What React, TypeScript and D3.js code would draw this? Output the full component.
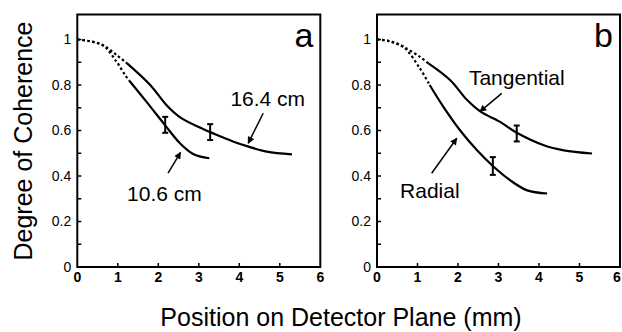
import React from "react";
import * as d3 from "d3";

type P = [number, number];

// Panel a
const aFarDashed: P[] = [[0, 1], [0.3, 0.993], [0.64, 0.974], [0.97, 0.932], [1.23, 0.895]];
const aFarSolid: P[] = [[1.23, 0.895], [1.8, 0.8], [2.21, 0.71], [2.54, 0.658], [3.04, 0.612], [3.45, 0.58], [3.86, 0.551], [4.23, 0.529], [4.68, 0.507], [5.3, 0.495]];
const aNearDashed: P[] = [[0, 1], [0.3, 0.993], [0.64, 0.974], [0.97, 0.902], [1.18, 0.844], [1.28, 0.82]];
const aNearSolid: P[] = [[1.28, 0.82], [1.71, 0.726], [2.16, 0.625], [2.54, 0.543], [2.86, 0.497], [3.26, 0.478]];
const aErrors = [
  { x: 2.17, y: 0.625, e: 0.035 },
  { x: 3.28, y: 0.593, e: 0.035 },
];
const aLabels = [
  { text: "16.4 cm", x: 3.78, y: 0.708 },
  { text: "10.6 cm", x: 1.23, y: 0.291 },
];
const aArrows = [
  { x1: 4.59, y1: 0.676, x2: 4.22, y2: 0.544 },
  { x1: 2.24, y1: 0.413, x2: 2.55, y2: 0.504 },
];

// Panel b
const bTanDashed: P[] = [[0, 1], [0.3, 0.993], [0.65, 0.968], [1.06, 0.924], [1.27, 0.895]];
const bTanSolid: P[] = [[1.27, 0.895], [1.81, 0.821], [2.22, 0.735], [2.55, 0.684], [3.04, 0.638], [3.43, 0.592], [4.12, 0.535], [4.61, 0.513], [5.31, 0.499]];
const bRadDashed: P[] = [[0, 1], [0.3, 0.993], [0.65, 0.968], [1.06, 0.873], [1.3, 0.8]];
const bRadSolid: P[] = [[1.3, 0.8], [1.64, 0.704], [2.05, 0.601], [2.47, 0.513], [2.86, 0.444], [3.29, 0.381], [3.71, 0.337], [4.2, 0.323]];
const bErrors = [
  { x: 3.45, y: 0.587, e: 0.035 },
  { x: 2.86, y: 0.444, e: 0.039 },
];
const bLabels = [
  { text: "Tangential", x: 2.27, y: 0.798 },
  { text: "Radial", x: 0.57, y: 0.302 },
];
const bArrows = [
  { x1: 3.08, y1: 0.763, x2: 2.54, y2: 0.683 },
  { x1: 1.35, y1: 0.412, x2: 1.97, y2: 0.566 },
];

const xTicks = [0, 1, 2, 3, 4, 5, 6];
const yTickLabels = [0, 0.2, 0.4, 0.6, 0.8, 1];
const yMinor = [0.1, 0.2, 0.3, 0.4, 0.5, 0.6, 0.7, 0.8, 0.9, 1.0];

const FONT = "Liberation Sans, Arial, Helvetica, sans-serif";

function Panel({ left, letter, dashed, solid, errors, labels, arrows, id }: any) {
  const x = d3.scaleLinear().domain([0, 6]).range([left, left + 243]);
  const y = d3.scaleLinear().domain([0, 1.11]).range([267, 14.5]);
  const line = d3
    .line<P>()
    .x((d) => x(d[0]))
    .y((d) => y(d[1]))
    .curve(d3.curveCatmullRom.alpha(0.5));
  return (
    <g>
      <rect x={x(0)} y={y(1.11)} width={x(6) - x(0)} height={y(0) - y(1.11)} fill="none" stroke="#000" strokeWidth={2} />
      {yMinor.map((t) => (
        <line key={"ym" + t} x1={x(0)} x2={x(0) + 4} y1={y(t)} y2={y(t)} stroke="#000" strokeWidth={1.5} />
      ))}
      {xTicks.slice(1, 6).map((t) => (
        <line key={"xm" + t} x1={x(t)} x2={x(t)} y1={y(0)} y2={y(0) - 4} stroke="#000" strokeWidth={1.5} />
      ))}
      {yTickLabels.map((t) => (
        <text key={"yl" + t} x={x(0) - 6} y={y(t)} dy="0.35em" textAnchor="end" fontSize={14} fontFamily={FONT}>
          {String(t)}
        </text>
      ))}
      {xTicks.map((t) => (
        <text key={"xl" + t} x={Math.min(x(t), 617)} y={282} textAnchor="middle" fontSize={14} fontFamily={FONT} fontWeight="bold">
          {String(t)}
        </text>
      ))}
      {dashed.map((d: P[], i: number) => (
        <path key={"d" + i} d={line(d) || ""} fill="none" stroke="#000" strokeWidth={2.2} strokeDasharray="2.5,2.5" />
      ))}
      {solid.map((d: P[], i: number) => (
        <path key={"s" + i} d={line(d) || ""} fill="none" stroke="#000" strokeWidth={2.2} />
      ))}
      {errors.map((e: any, i: number) => (
        <g key={"e" + i} stroke="#000" strokeWidth={2}>
          <line x1={x(e.x)} x2={x(e.x)} y1={y(e.y + e.e)} y2={y(e.y - e.e)} />
          <line x1={x(e.x) - 3} x2={x(e.x) + 3} y1={y(e.y + e.e)} y2={y(e.y + e.e)} />
          <line x1={x(e.x) - 3} x2={x(e.x) + 3} y1={y(e.y - e.e)} y2={y(e.y - e.e)} />
        </g>
      ))}
      {arrows.map((a: any, i: number) => (
        <line key={"a" + i} x1={x(a.x1)} y1={y(a.y1)} x2={x(a.x2)} y2={y(a.y2)} stroke="#000" strokeWidth={1.5} markerEnd={`url(#arr-${id})`} />
      ))}
      {labels.map((l: any, i: number) => (
        <text key={"l" + i} x={x(l.x)} y={y(l.y)} fontSize={21} fontFamily={FONT}>
          {l.text}
        </text>
      ))}
      <text x={x(6) - 7} y={46.5} textAnchor="end" fontSize={34} fontFamily={FONT}>
        {letter}
      </text>
    </g>
  );
}

export default function App() {
  return (
    <svg width={622} height={332} style={{ position: "absolute", left: 0, top: 0, background: "#fff" }}>
      <defs>
        {["a", "b"].map((id) => (
          <marker key={id} id={`arr-${id}`} viewBox="0 0 10 10" refX={9} refY={5} markerWidth={9} markerHeight={7} markerUnits="userSpaceOnUse" orient="auto">
            <path d="M0,0 L10,5 L0,10 z" fill="#000" />
          </marker>
        ))}
      </defs>
      <rect width={622} height={332} fill="#fff" />
      <Panel id="a" left={77.3} letter="a" dashed={[aFarDashed, aNearDashed]} solid={[aFarSolid, aNearSolid]} errors={aErrors} labels={aLabels} arrows={aArrows} />
      <Panel id="b" left={377} letter="b" dashed={[bTanDashed, bRadDashed]} solid={[bTanSolid, bRadSolid]} errors={bErrors} labels={bLabels} arrows={bArrows} />
      <text transform="translate(31.5,141) rotate(-90)" textAnchor="middle" fontSize={25} fontFamily={FONT}>
        Degree of Coherence
      </text>
      <text x={341} y={326} textAnchor="middle" fontSize={25} fontFamily={FONT}>
        Position on Detector Plane (mm)
      </text>
    </svg>
  );
}
